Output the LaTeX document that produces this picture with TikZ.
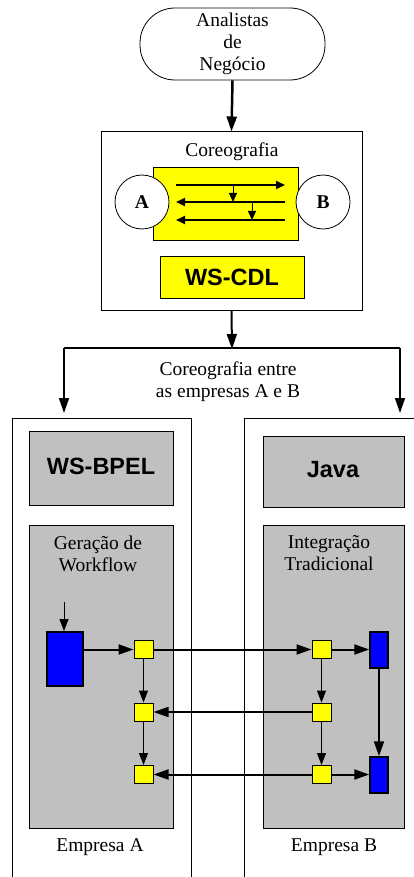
\documentclass[tikz,border=0pt]{standalone}
\usepackage{fontspec}
\setmainfont{Liberation Serif}
\newfontfamily\arialfont{Liberation Sans}
\usetikzlibrary{arrows.meta,positioning}

\definecolor{cinza}{HTML}{C0C0C0}
\definecolor{amarelo}{HTML}{FFFF00}
\definecolor{azul}{HTML}{0000FF}

\begin{document}
\begin{tikzpicture}[x=1pt,y=-1pt,
    txt/.style={font=\fontsize{19.5}{22}\selectfont, align=center, inner sep=0pt},
    negrito/.style={font=\arialfont\bfseries\fontsize{23.5}{26}\selectfont},
    caixa/.style={draw, line width=1pt, inner sep=0pt},
    caixacinza/.style={caixa, fill=cinza},
    quad/.style={caixa, fill=amarelo, minimum width=19pt, minimum height=18pt},
    bloco/.style={caixa, fill=azul, line width=2pt},
    seta/.style={-{Triangle[length=15pt,width=10pt]}, line width=2pt},
    setafina/.style={-{Triangle[length=12pt,width=9pt]}, line width=1pt},
    setinha/.style={-{Triangle[length=9pt,width=8pt]}, line width=2pt}]
    \useasboundingbox (0,0) rectangle (414,877);

    % analistas e coreografia
    \node [draw, line width=0.8pt, rounded corners=35pt, minimum width=185pt, minimum height=72pt, txt] (ana) at (232.5,44) {Analistas\\de\\Negócio};
    \node [caixa, minimum width=261pt, minimum height=178pt] (coreo) at (231.5,221) {};
    \node [txt] (titulo) at (232,152) {Coreografia};
    \node [caixa, fill=amarelo, minimum width=145pt, minimum height=72pt] (fluxo) at (225.5,204) {};
    \node [draw, line width=0.8pt, fill=white, circle, minimum size=54pt, inner sep=0pt, font=\bfseries\fontsize{19.5}{22}\selectfont] (cA) at (142,202) {A};
    \node [draw, line width=0.8pt, fill=white, circle, minimum size=54pt, inner sep=0pt, font=\bfseries\fontsize{19.5}{22}\selectfont] (cB) at (323,202) {B};
    \node [caixa, fill=amarelo, minimum width=144pt, minimum height=42pt, negrito] (cdl) at (232,277) {WS-CDL};

    \coordinate (m1a) at (176,185);
    \coordinate (m1b) at (285,185);
    \coordinate (m2a) at (176,202);
    \coordinate (m2b) at (285,202);
    \coordinate (m3a) at (176,220);
    \coordinate (m3b) at (285,220);
    \coordinate (v1a) at (233,185);
    \coordinate (v1b) at (233,202);
    \coordinate (v2a) at (252,202);
    \coordinate (v2b) at (252,220);
    \draw [setinha] (m1a) -- (m1b);
    \draw [setinha] (m2b) -- (m2a);
    \draw [setinha] (m3b) -- (m3a);
    \draw [setinha, line width=1pt] (v1a) -- (v1b);
    \draw [setinha, line width=1pt] (v2a) -- (v2b);

    \draw [seta, line width=2.5pt] (ana.south) -- (coreo.north);

    % divisao para as empresas
    \coordinate (split) at (232,349);
    \coordinate (splitL) at (64,348);
    \coordinate (splitR) at (400,348);
    \coordinate (topL) at (64,413);
    \coordinate (topR) at (400,413);
    \draw [seta] (coreo.south) -- (split);
    \draw [line width=1.2pt] (splitL) -- (splitR);
    \draw [seta, line width=1.5pt] (splitL) -- (topL);
    \draw [seta, line width=1.5pt] (splitR) -- (topR);
    \node [txt] (entre) at (228,382) {Coreografia entre\\as empresas A e B};

    % empresas
    \draw [line width=1pt] (12,877) -- (12,418) -- (191,418) -- (191,877);
    \draw [line width=1pt] (244,877) -- (244,418) -- (414,418);
    \node [caixacinza, minimum width=144pt, minimum height=74pt, negrito] (bpel) at (101,468) {};
    \node [negrito] at (101,466) {WS-BPEL};
    \node [caixacinza, minimum width=141pt, minimum height=71pt] (java) at (333.5,471.5) {};
    \node [negrito] at (333,470) {Java};
    \node [caixacinza, minimum width=144pt, minimum height=303pt] (ger) at (101,676.5) {};
    \node [txt] (gerlab) at (98,554) {Geração de\\Workflow};
    \node [caixacinza, minimum width=141pt, minimum height=303pt] (integ) at (333.5,676.5) {};
    \node [txt] (integlab) at (329,553) {Integração\\Tradicional};
    \node [txt] (empA) at (100,847) {Empresa A};
    \node [txt] (empB) at (334,847) {Empresa B};

    % fluxo de mensagens
    \node [bloco, minimum width=36pt, minimum height=54pt] (azA) at (65,659) {};
    \node [bloco, line width=1.5pt, minimum width=18pt, minimum height=36pt] (azB1) at (379,650) {};
    \node [bloco, line width=1.5pt, minimum width=18pt, minimum height=36pt] (azB2) at (379,775) {};
    \node [quad] (L1) at (143.5,649.5) {};
    \node [quad] (L2) at (143.5,712) {};
    \node [quad] (L3) at (143.5,774.5) {};
    \node [quad] (R1) at (321.5,649.5) {};
    \node [quad] (R2) at (321.5,712) {};
    \node [quad] (R3) at (321.5,774.5) {};
    \coordinate (entrada) at (64,602);

    \draw [setafina] (entrada) -- (azA.north -| entrada);
    \draw [seta] (azA.east |- L1) -- (L1);
    \draw [seta] (L1) -- (R1);
    \draw [seta] (R1) -- (R1 -| azB1.west);
    \draw [seta] (azB1) -- (azB2);
    \draw [seta] (R2) -- (L2);
    \draw [seta] (R3) -- (L3);
    \draw [seta] (R3) -- (R3 -| azB2.west);
    \draw [setafina] (L1) -- (L2);
    \draw [setafina] (L2) -- (L3);
    \draw [setafina] (R1) -- (R2);
    \draw [setafina] (R2) -- (R3);
\end{tikzpicture}
\end{document}
